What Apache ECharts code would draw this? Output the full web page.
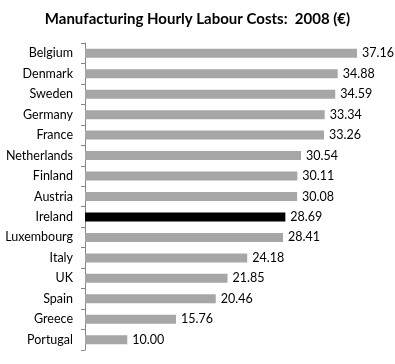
<!DOCTYPE html>
<html><head><meta charset="utf-8">
<script src="https://cdn.jsdelivr.net/npm/echarts@6/dist/echarts.min.js"></script>
<style>html,body{margin:0;padding:0;background:#fff}#c{width:395px;height:364px}</style>
</head><body><div id="c"></div>
<script>
const countries = ["Belgium","Denmark","Sweden","Germany","France","Netherlands","Finland","Austria","Ireland","Luxembourg","Italy","UK","Spain","Greece","Portugal"];
const costs = [37.16,34.88,34.59,33.34,33.26,30.54,30.11,30.08,28.69,28.41,24.18,21.85,20.46,15.76,10.00];
const highlight = "Ireland";

const chart = echarts.init(document.getElementById('c'));
chart.setOption({
  animation: false,
  title: {
    text: "Manufacturing Hourly Labour Costs:  2008 (€)",
    left: 'center', top: 7,
    textStyle: {fontFamily: 'Lato', fontWeight: 'bold', fontSize: 15, color: '#000'}
  },
  grid: {left: 85, right: 14, top: 43, bottom: 14},
  xAxis: {type: 'value', min: 5, max: 40, show: false},
  yAxis: {
    type: 'category', data: countries, inverse: true,
    axisLine: {show: true, lineStyle: {color: '#868686'}},
    axisTick: {show: true, length: 4, lineStyle: {color: '#868686'}},
    axisLabel: {fontFamily: 'Lato', fontSize: 12.5, color: '#000', margin: 12}
  },
  series: [{
    type: 'bar',
    data: costs.map((v, i) => ({value: v, itemStyle: {color: countries[i] === highlight ? '#000' : '#a6a6a6'}})),
    barCategoryGap: '56%',
    label: {show: true, position: 'right', distance: 5, fontFamily: 'Lato', fontSize: 12.5, color: '#000',
      formatter: p => p.value.toFixed(2)}
  }]
});
</script></body></html>
